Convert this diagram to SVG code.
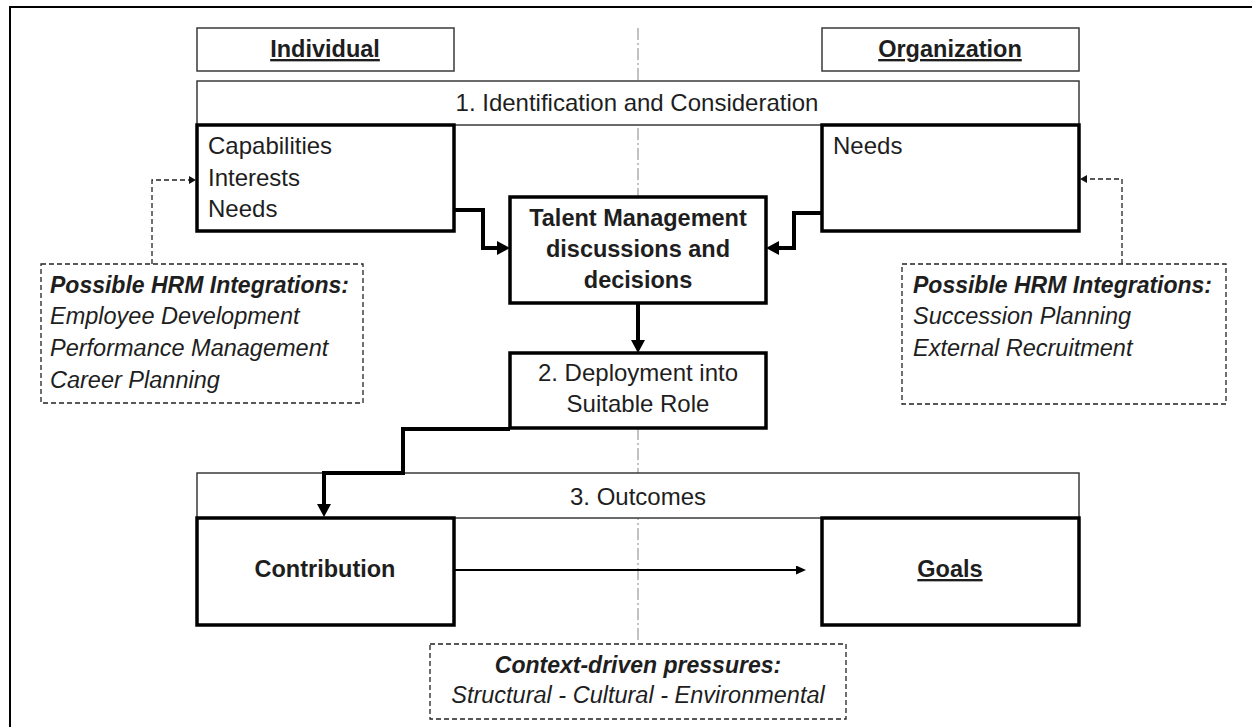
<svg xmlns="http://www.w3.org/2000/svg" width="1252" height="727" viewBox="0 0 1252 727">
<style>
text{font-family:"Liberation Sans",Arial,sans-serif;font-size:24px;fill:#1e1e1e}
.b{font-weight:bold;font-size:23.5px}
.i{font-style:italic;font-size:23.5px}
.bi{font-style:italic;font-weight:bold;font-size:23px}
.u{text-decoration:underline}
.c{text-anchor:middle}
.thin{fill:#fff;stroke:#3a3a3a;stroke-width:1.5}
.thick{fill:#fff;stroke:#000;stroke-width:3.5}
.dash{fill:#fff;stroke:#222;stroke-width:1.3;stroke-dasharray:5 3}
.conn{fill:none;stroke:#000;stroke-width:4}
.dconn{fill:none;stroke:#222;stroke-width:1.3;stroke-dasharray:5 3}
</style>
<defs>
<marker id="ah" markerUnits="userSpaceOnUse" markerWidth="13" markerHeight="14" refX="0" refY="7" orient="auto">
<path d="M0,0 L13,7 L0,14 z" fill="#000"/>
</marker>
<marker id="ahs" markerUnits="userSpaceOnUse" markerWidth="7" markerHeight="8" refX="0" refY="4" orient="auto">
<path d="M0,0 L7,4 L0,8 z" fill="#111"/>
</marker>
<marker id="ahm" markerUnits="userSpaceOnUse" markerWidth="10" markerHeight="9" refX="0" refY="4.5" orient="auto">
<path d="M0,0 L10,4.5 L0,9 z" fill="#000"/>
</marker>
</defs>
<rect width="1252" height="727" fill="#fff"/>
<rect x="10" y="7" width="1260" height="740" fill="none" stroke="#000" stroke-width="2"/>
<line x1="638" y1="28" x2="638" y2="643" stroke="#9a9a9a" stroke-width="1.2" stroke-dasharray="12 3 2 3"/>
<g id="individual"><rect class="thin" x="197" y="28" width="257" height="43"/><text class="b u c" x="325" y="57">Individual</text></g>
<g id="organization"><rect class="thin" x="822" y="28" width="257" height="43"/><text class="b u c" x="950" y="57">Organization</text></g>
<g id="stage1"><rect class="thin" x="197" y="81" width="882" height="44"/><text class="c" x="637" y="111">1. Identification and Consideration</text></g>
<g id="ind-attrs"><rect class="thick" x="197" y="125" width="257" height="106"/><text x="208" y="154">Capabilities</text><text x="208" y="186">Interests</text><text x="208" y="217">Needs</text></g>
<g id="org-needs"><rect class="thick" x="822" y="125" width="257" height="106"/><text x="833" y="154">Needs</text></g>
<g id="talent"><rect class="thick" x="510" y="197" width="256" height="106"/><text class="b c" x="638" y="226">Talent Management</text><text class="b c" x="638" y="257">discussions and</text><text class="b c" x="638" y="288">decisions</text></g>
<g id="deployment"><rect class="thick" x="510" y="353" width="256" height="75"/><text class="c" x="638" y="381">2. Deployment into</text><text class="c" x="638" y="412">Suitable Role</text></g>
<g id="stage3"><rect class="thin" x="197" y="473" width="882" height="45"/><text class="c" x="638" y="505">3. Outcomes</text></g>
<g id="contribution"><rect class="thick" x="197" y="518" width="257" height="107"/><text class="b c" x="325" y="577">Contribution</text></g>
<g id="goals"><rect class="thick" x="822" y="518" width="257" height="107"/><text class="b u c" x="950" y="577">Goals</text></g>
<g id="hrm-ind"><rect class="dash" x="41" y="264" width="322" height="139"/><text class="bi" x="50" y="293">Possible HRM Integrations:</text><text class="i" x="50" y="324">Employee Development</text><text class="i" x="50" y="356">Performance Management</text><text class="i" x="50" y="388">Career Planning</text></g>
<g id="hrm-org"><rect class="dash" x="902" y="264" width="324" height="140"/><text class="bi" x="913" y="293">Possible HRM Integrations:</text><text class="i" x="913" y="324">Succession Planning</text><text class="i" x="913" y="356">External Recruitment</text></g>
<g id="context"><rect class="dash" x="430" y="644" width="416" height="75"/><text class="bi c" x="638" y="673">Context-driven pressures:</text><text class="i c" x="638" y="703">Structural - Cultural - Environmental</text></g>
<g id="connectors">
<path class="conn" d="M454,210 L483,210 L483,248 L497,248" marker-end="url(#ah)"/>
<path class="conn" d="M822,213 L794,213 L794,248 L779,248" marker-end="url(#ah)"/>
<path class="conn" d="M638,303 L638,340" marker-end="url(#ah)"/>
<path class="conn" d="M510,429 L403,429 L403,473 L324,473 L324,504" marker-end="url(#ah)"/>
<path fill="none" stroke="#000" stroke-width="2" d="M454,570 L796,570" marker-end="url(#ahm)"/>
<path class="dconn" d="M152,264 L152,180 L189,180" marker-end="url(#ahs)"/>
<path class="dconn" d="M1122,264 L1122,179 L1087,179" marker-end="url(#ahs)"/>
</g>
</svg>
